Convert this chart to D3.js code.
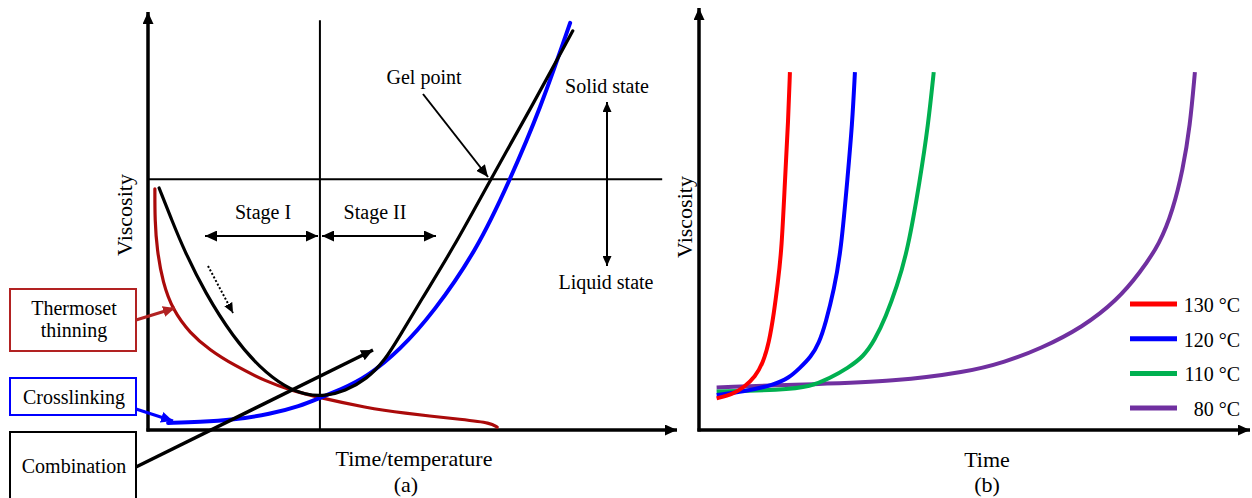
<!DOCTYPE html>
<html>
<head>
<meta charset="utf-8">
<script src="https://cdn.jsdelivr.net/npm/d3@7"></script>
<style>
  body { margin: 0; background: #fff; }
  svg { display: block; font-family: "Liberation Serif", "Times New Roman", serif; }
</style>
</head>
<body>
<svg id="chart" width="1252" height="498"></svg>
<script>
// ---- panel (a): viscosity vs time/temperature (arbitrary units, 0-100) ----
const thinningCurve = [
  [1.3, 57.7], [1.3, 50.2], [1.7, 43.1], [2.8, 35.2], [4.7, 28.7], [7.9, 23.2],
  [11.7, 19.1], [16.1, 15.6], [22.5, 11.5], [26.8, 9.6], [32.5, 7.7], [41.4, 5.3],
  [47.6, 4.1], [60.3, 2.4], [64.7, 1.7], [66.0, 0.7]
];
const crosslinkCurve = [
  [3.8, 1.7], [9.8, 1.9], [16.1, 2.4], [23.1, 3.8], [28.7, 5.7], [32.5, 7.7],
  [36.3, 9.6], [41.4, 12.7], [47.6, 19.1], [53.9, 28.0], [62.2, 43.1],
  [68.4, 59.8], [74.1, 76.6], [79.8, 97.4]
];
const combinedCurve = [
  [2.1, 57.9], [4.5, 50.2], [6.8, 43.1], [10.8, 32.8], [16.1, 22.2], [21.2, 14.8],
  [25.9, 10.3], [29.7, 8.4], [33.5, 8.1], [37.2, 9.3], [41.4, 12.2], [44.8, 16.7],
  [47.6, 22.5], [51.4, 30.6], [57.7, 43.5], [64.7, 59.8], [72.2, 76.6], [80.3, 95.5]
];
const gelLevel = 60;      // viscosity at gel point
const stageSplit = 32.5;  // boundary between stage I and stage II

// ---- panel (b): viscosity vs time at four cure temperatures ----
const tempLabels = ["130 °C", "120 °C", "110 °C", " 80 °C"];
const cure130 = [
  [3.2, 7.5], [6.2, 8.5], [8.2, 10.2], [10.2, 12.6], [11.6, 15.9], [12.7, 20.6],
  [13.6, 27.7], [14.3, 34.8], [15.0, 42.7], [15.6, 59.2], [16.2, 73.5], [16.5, 84.8]
];
const cure120 = [
  [3.2, 8.3], [8.2, 9.1], [13.6, 10.7], [16.3, 12.3], [18.3, 14.7], [20.3, 17.3],
  [21.8, 20.6], [23.0, 25.4], [24.5, 33.2], [25.8, 42.7], [27.0, 60.4], [27.8, 72.3],
  [28.3, 84.8]
];
const cure110 = [
  [3.2, 9.1], [15.0, 9.5], [20.3, 10.3], [23.8, 12.3], [27.0, 14.7], [29.8, 17.3],
  [31.9, 21.3], [33.9, 26.8], [35.9, 33.9], [37.9, 42.7], [40.1, 59.2], [41.6, 72.3],
  [42.6, 84.8]
];
const cure80 = [
  [3.2, 10.1], [21.7, 10.9], [35.2, 11.5], [48.6, 13.7], [55.5, 16.1], [61.9, 19.2],
  [69.7, 24.4], [75.9, 30.8], [80.0, 37.2], [83.7, 44.3], [86.0, 52.1], [87.8, 61.6],
  [89.1, 71.8], [90.0, 84.8]
];
const cureSeries = [cure130, cure120, cure110, cure80];
const cureColors = ["#ff0000", "#0000ff", "#00b050", "#7030a0"];

const svg = d3.select("#chart");
const defs = svg.append("defs");

function marker(id, color, len, wid) {
  defs.append("marker")
    .attr("id", id)
    .attr("viewBox", `0 0 ${len} ${wid}`)
    .attr("refX", len).attr("refY", wid / 2)
    .attr("markerWidth", len).attr("markerHeight", wid)
    .attr("markerUnits", "userSpaceOnUse")
    .attr("orient", "auto-start-reverse")
    .append("path")
    .attr("d", `M0,0L${len},${wid / 2}L0,${wid}Z`)
    .attr("fill", color);
}
marker("axisHead", "#000", 12, 11);
marker("blackHead", "#000", 12, 11);
marker("smallHead", "#000", 10, 9);
marker("redHead", "#b22222", 12, 11);
marker("blueHead", "#0000ff", 12, 11);

// ---------- panel (a) ----------
const xa = d3.scaleLinear().domain([0, 100]).range([148, 677]);
const ya = d3.scaleLinear().domain([0, 100]).range([430, 12]);
const ga = svg.append("g");

// gel level and stage boundary
ga.append("line")
  .attr("x1", xa(0)).attr("x2", xa(97.2))
  .attr("y1", ya(gelLevel)).attr("y2", ya(gelLevel))
  .attr("stroke", "#000").attr("stroke-width", 2);
ga.append("line")
  .attr("x1", xa(stageSplit)).attr("x2", xa(stageSplit))
  .attr("y1", ya(0)).attr("y2", ya(98))
  .attr("stroke", "#000").attr("stroke-width", 2);

// axes
ga.append("line")
  .attr("x1", xa(0)).attr("y1", ya(0) + 1.5).attr("x2", xa(0)).attr("y2", ya(100))
  .attr("stroke", "#000").attr("stroke-width", 3.5).attr("marker-end", "url(#axisHead)");
ga.append("line")
  .attr("x1", xa(0) - 1.5).attr("y1", ya(0)).attr("x2", xa(100)).attr("y2", ya(0))
  .attr("stroke", "#000").attr("stroke-width", 3.5).attr("marker-end", "url(#axisHead)");

const lineA = d3.line().x(d => xa(d[0])).y(d => ya(d[1])).curve(d3.curveBasis);

ga.append("path").datum(thinningCurve)
  .attr("fill", "none").attr("stroke", "#aa0a0a").attr("stroke-width", 3.2)
  .attr("stroke-linecap", "round").attr("d", lineA);
ga.append("path").datum(crosslinkCurve)
  .attr("fill", "none").attr("stroke", "#0000ff").attr("stroke-width", 4)
  .attr("stroke-linecap", "round").attr("d", lineA);
ga.append("path").datum(combinedCurve)
  .attr("fill", "none").attr("stroke", "#000").attr("stroke-width", 3.2)
  .attr("stroke-linecap", "round").attr("d", lineA);

// annotation arrows
function arrow(g, x1, y1, x2, y2, color, w, head, start, dash) {
  const l = g.append("line")
    .attr("x1", x1).attr("y1", y1).attr("x2", x2).attr("y2", y2)
    .attr("stroke", color).attr("stroke-width", w)
    .attr("marker-end", `url(#${head})`);
  if (start) l.attr("marker-start", `url(#${head})`);
  if (dash) l.attr("stroke-dasharray", dash);
  return l;
}
arrow(ga, 205, 236, 318, 236, "#000", 2, "blackHead", true);
arrow(ga, 322, 236, 436, 236, "#000", 2, "blackHead", true);
arrow(ga, 607, 102, 607, 266, "#000", 2, "smallHead", true);
arrow(ga, 423, 94, 488, 177, "#000", 2, "blackHead");
arrow(ga, 208, 266, 233, 313, "#000", 2, "smallHead", false, "2,2");
arrow(ga, 136, 320, 175, 308, "#b22222", 3, "redHead");
arrow(ga, 136, 409, 173, 421, "#0000ff", 3, "blueHead");
arrow(ga, 136, 467, 373, 350, "#000", 3.5, "blackHead");

// label boxes
const boxes = [
  { y: 289, h: 62, color: "#b22222", lines: ["Thermoset", "thinning"], base: 315 },
  { y: 378, h: 37, color: "#0000ff", lines: ["Crosslinking"], base: 404 },
  { y: 432, h: 70, color: "#000", lines: ["Combination"], base: 473 }
];
boxes.forEach(b => {
  ga.append("rect").attr("x", 10).attr("y", b.y).attr("width", 126).attr("height", b.h)
    .attr("fill", "#fff").attr("stroke", b.color).attr("stroke-width", 2);
  b.lines.forEach((t, i) => {
    ga.append("text").attr("x", 74).attr("y", b.base + i * 22)
      .attr("text-anchor", "middle").attr("font-size", 20).text(t);
  });
});

const labelsA = [
  { x: 263, y: 219, t: "Stage I" },
  { x: 375, y: 219, t: "Stage II" },
  { x: 424, y: 84, t: "Gel point" },
  { x: 607, y: 93, t: "Solid state" },
  { x: 606, y: 289, t: "Liquid state" }
];
labelsA.forEach(d => {
  ga.append("text").attr("x", d.x).attr("y", d.y)
    .attr("text-anchor", "middle").attr("font-size", 20).text(d.t);
});
ga.append("text").attr("x", 414).attr("y", 466)
  .attr("text-anchor", "middle").attr("font-size", 22).text("Time/temperature");
ga.append("text").attr("x", 406).attr("y", 492)
  .attr("text-anchor", "middle").attr("font-size", 22).text("(a)");
ga.append("text").attr("transform", "translate(132,215) rotate(-90)")
  .attr("text-anchor", "middle").attr("font-size", 22).text("Viscosity");

// ---------- panel (b) ----------
const xb = d3.scaleLinear().domain([0, 100]).range([699, 1250]);
const yb = d3.scaleLinear().domain([0, 100]).range([430, 8]);
const gb = svg.append("g");

gb.append("line")
  .attr("x1", xb(0)).attr("y1", yb(0) + 1.5).attr("x2", xb(0)).attr("y2", yb(100))
  .attr("stroke", "#000").attr("stroke-width", 3.5).attr("marker-end", "url(#axisHead)");
gb.append("line")
  .attr("x1", xb(0) - 1.5).attr("y1", yb(0)).attr("x2", xb(100)).attr("y2", yb(0))
  .attr("stroke", "#000").attr("stroke-width", 3.5).attr("marker-end", "url(#axisHead)");

const lineB = d3.line().x(d => xb(d[0])).y(d => yb(d[1])).curve(d3.curveBasis);

// draw 80 °C first so the faster curves sit on top
cureSeries.slice().reverse().forEach((s, i) => {
  const k = cureSeries.length - 1 - i;
  gb.append("path").datum(s)
    .attr("fill", "none").attr("stroke", cureColors[k]).attr("stroke-width", 4)
    .attr("d", lineB);
});

// legend
tempLabels.forEach((t, i) => {
  const y = 304 + i * 34.7;
  gb.append("line").attr("x1", 1130).attr("x2", 1177).attr("y1", y).attr("y2", y)
    .attr("stroke", cureColors[i]).attr("stroke-width", 5);
  gb.append("text").attr("x", 1240).attr("y", y + 8)
    .attr("text-anchor", "end").attr("font-size", 20)
    .attr("xml:space", "preserve").text(t);
});

gb.append("text").attr("x", 987).attr("y", 467)
  .attr("text-anchor", "middle").attr("font-size", 22).text("Time");
gb.append("text").attr("x", 987).attr("y", 492)
  .attr("text-anchor", "middle").attr("font-size", 22).text("(b)");
gb.append("text").attr("transform", "translate(692,217) rotate(-90)")
  .attr("text-anchor", "middle").attr("font-size", 22).text("Viscosity");
</script>
</body>
</html>
